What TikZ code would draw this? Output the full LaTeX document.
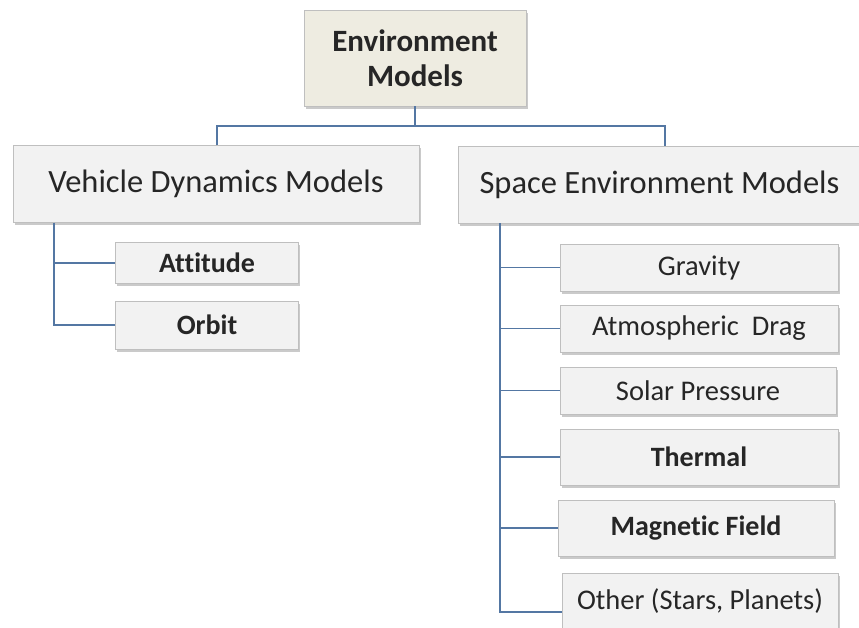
\documentclass[tikz,border=0pt]{standalone}
\usepackage{fontspec}
\setmainfont[Ligatures=NoCommon]{Carlito}
\usepackage{xcolor}
\definecolor{rootfill}{HTML}{EEECE1}
\definecolor{boxfill}{HTML}{F2F2F2}
\definecolor{boxline}{HTML}{BFBFBF}
\definecolor{linkblue}{HTML}{5477A3}
\usepackage{tikz}
\usetikzlibrary{positioning, shadows}
\tikzset{
    x=1pt, y=1pt,
    % Boxes
    basebox/.style={ rectangle, draw=boxline, fill=boxfill, inner sep=0pt, align=center, text=black!85,
        drop shadow={ shadow xshift=1.5pt, shadow yshift=-2.5pt, opacity=0.35, fill=black!60 } },
    rootbox/.style={ basebox, fill=rootfill, minimum width=222, minimum height=96, font=\fontsize{31}{35}\selectfont\bfseries },
    groupbox/.style={ basebox, minimum height=77, font=\fontsize{32.5}{38}\selectfont },
    leafbox/.style={ basebox, minimum width=278, minimum height=47, font=\fontsize{28.5}{33}\selectfont },
    boldleaf/.style={ leafbox, font=\fontsize{28}{33}\selectfont\bfseries },
    % Connectors
    link/.style={ draw=linkblue, line width=1.9pt },
}

\begin{document}
\begin{tikzpicture}
    \useasboundingbox (0,0) rectangle (859,-627);

    % Top level
    \node[rootbox] (root) at (415,-58) {Environment\\Models};

    % Second level
    \node[groupbox, minimum width=406] (vdm) at (216,-184) {Vehicle Dynamics Models};
    \node[groupbox, minimum width=403] (sem) at (659.5,-184.5) {Space Environment Models};

    % Vehicle dynamics leaves
    \node[boldleaf, minimum width=183, minimum height=41] (attitude) at (207,-263) {Attitude};
    \node[boldleaf, minimum width=183, minimum height=48] (orbit) at (207,-325) {Orbit};

    % Space environment leaves
    \node[leafbox] (gravity) at (699,-267.5) {Gravity};
    \node[leafbox] (drag) at (699,-328.5) {Atmospheric\ \ Drag};
    \node[leafbox, minimum width=276] (solar) at (698,-390.5) {Solar Pressure};
    \node[boldleaf, minimum height=56] (thermal) at (699,-457) {Thermal};
    \node[boldleaf, minimum width=276, minimum height=56] (magnetic) at (696,-528) {Magnetic Field};
    \node[leafbox, minimum width=276, minimum height=68] (other) at (700,-607) {};
    \node[font=\fontsize{28.5}{33}\selectfont, text=black!85] (other-text) at (700,-601) {Other (Stars,\ Planets)};

    % Connectors
    \draw[link] (root.south) -- ++(0,-20) coordinate (bus);
    \draw[link] (vdm.north -| 217,0) |- (bus) -| (sem.north -| 665,0);

    \coordinate (vdm-spine) at (vdm.south -| 54,0);
    \draw[link] (vdm-spine) |- (orbit.west);
    \draw[link] (vdm-spine |- attitude.west) -- (attitude.west);

    \coordinate (sem-spine) at (sem.south -| 500,0);
    \draw[link] (sem-spine) |- ([yshift=-5]other.west);
    \foreach \leaf in {gravity, drag, solar, thermal, magnetic}
        \draw[link] (sem-spine |- \leaf.west) -- (\leaf.west);
\end{tikzpicture}
\end{document}
